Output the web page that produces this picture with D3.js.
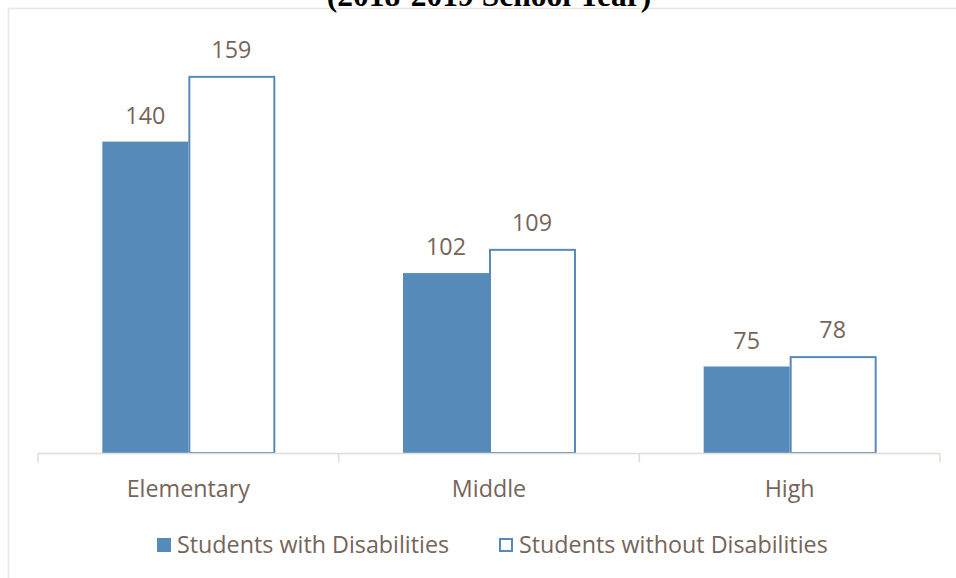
<!DOCTYPE html>
<html><head><meta charset="utf-8">
<script src="https://cdn.jsdelivr.net/npm/d3@7"></script>
<style>html,body{margin:0;padding:0;background:#fff;overflow:hidden}</style>
</head><body>
<svg id="c" width="956" height="578"></svg>
<script>
const title = "(2018-2019 School Year)";
const categories = ["Elementary", "Middle", "High"];
const seriesNames = ["Students with Disabilities", "Students without Disabilities"];
const withDisabilities = [140, 102, 75];
const withoutDisabilities = [159, 109, 78];
const yDomain = [50, 170];

const svg = d3.select("#c");
const blue = "#568bb9", textCol = "#76645a", gridCol = "#e2dcd8";
const font = "'Open Sans', Lato, sans-serif";
const fs = 23.3;

// frame
svg.append("path").attr("d", "M8.5,578V8.5H956").attr("fill","none").attr("stroke", "#ebe6e3").attr("stroke-width", 1.5);

// title (clipped at top, as in the source image)
svg.append("text").attr("x", 489).attr("y", 6).attr("text-anchor","middle")
  .attr("font-family","'Liberation Serif', 'Times New Roman', serif").attr("font-weight","bold")
  .attr("font-size", 31.5).attr("fill","#000").text(title);

const x0 = d3.scaleBand().domain(categories).range([38, 940]).paddingInner(0.428).paddingOuter(0.214);
const x1 = d3.scaleBand().domain([0,1]).range([0, x0.bandwidth()]);
const y = d3.scaleLinear().domain(yDomain).range([453, 453 - 120*3.46]);

const data = categories.map((c,i)=>({cat:c, vals:[withDisabilities[i], withoutDisabilities[i]]}));

const g = svg.append("g");
data.forEach(d=>{
  d.vals.forEach((v,j)=>{
    const bx = x0(d.cat) + x1(j), bw = x1.bandwidth();
    if (j===0) {
      g.append("rect").attr("x", bx).attr("y", y(v)).attr("width", bw).attr("height", y(yDomain[0]) - y(v)).attr("fill", blue);
    } else {
      g.append("rect").attr("x", bx+1).attr("y", y(v)+1).attr("width", bw-1).attr("height", y(yDomain[0]) - y(v) - 1)
        .attr("fill", "#fff").attr("stroke", blue).attr("stroke-width", 2);
    }
    g.append("text").attr("x", bx + bw/2).attr("y", y(v) - 18).attr("text-anchor","middle")
      .attr("font-family", font).attr("font-size", fs).attr("fill", textCol).text(v);
  });
});

// axis
const axis = svg.append("g").attr("transform","translate(0,453.5)");
axis.append("line").attr("x1",38).attr("x2",940).attr("stroke",gridCol).attr("stroke-width",1.5);
const tickXs = categories.map(c=>x0(c) - x0.step()*0.214).concat([940]);
tickXs.forEach(tx=>axis.append("line").attr("x1",tx).attr("x2",tx).attr("y1",0).attr("y2",9).attr("stroke",gridCol).attr("stroke-width",1.5));
categories.forEach(c=>{
  svg.append("text").attr("x", x0(c)+x0.bandwidth()/2).attr("y", 496.5).attr("text-anchor","middle")
    .attr("font-family", font).attr("font-size", fs).attr("fill", textCol).text(c);
});

// legend
const leg = svg.append("g");
const legItems = [{x:157, name:seriesNames[0], filled:true},{x:499, name:seriesNames[1], filled:false}];
legItems.forEach(it=>{
  if (it.filled) leg.append("rect").attr("x", it.x).attr("y", 538).attr("width", 14).attr("height", 14).attr("fill", blue);
  else leg.append("rect").attr("x", it.x+1).attr("y", 539).attr("width", 12).attr("height", 12).attr("fill","#fff").attr("stroke", blue).attr("stroke-width", 2);
  leg.append("text").attr("x", it.x + 20).attr("y", 552.5).attr("font-family", font).attr("font-size", fs).attr("fill", textCol).text(it.name);
});
</script>
</body></html>
